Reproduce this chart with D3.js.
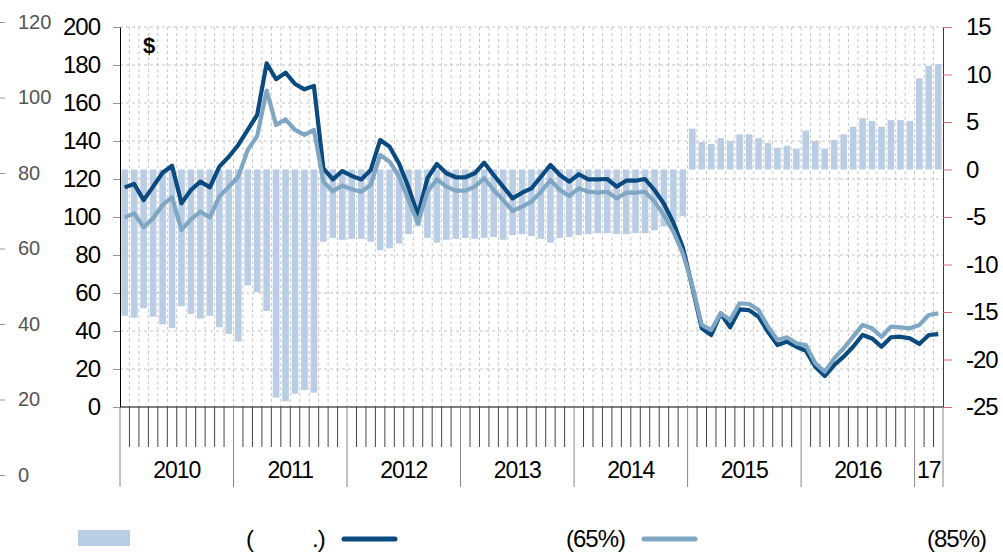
<!DOCTYPE html>
<html>
<head>
<meta charset="utf-8">
<script src="https://cdn.jsdelivr.net/npm/d3@7"></script>
<style>
  body { margin: 0; background: #fff; }
  text { font-family: "Liberation Sans", Arial, sans-serif; }
</style>
</head>
<body>
<div id="chart"></div>
<script>
// year blocks along the bottom (2017 only has three months)
const years = ["2010", "2011", "2012", "2013", "2014", "2015", "2016", "17"];
const monthsPerYear = [12, 12, 12, 12, 12, 12, 12, 3];

// monthly bars, right axis
const balance = [
  -15.4, -15.6, -14.6, -15.5, -16.3, -16.7, -14.4, -15.2, -15.7, -15.4, -16.6, -17.3,
  -18.1, -12.2, -12.9, -14.9, -24.0, -24.4, -23.6, -23.2, -23.5, -7.6, -7.2, -7.4,
  -7.3, -7.3, -7.6, -8.5, -8.3, -7.8, -6.8, -6.0, -7.2, -7.7, -7.4, -7.3,
  -7.2, -7.3, -7.2, -7.1, -7.4, -6.9, -6.8, -7.0, -7.3, -7.7, -7.2, -7.1,
  -6.9, -6.8, -6.7, -6.7, -6.8, -6.8, -6.7, -6.7, -6.4, -6.0, -5.5, -4.9,
  4.3, 2.9, 2.7, 3.3, 3.0, 3.7, 3.7, 3.3, 2.8, 2.3, 2.5, 2.2,
  4.1, 3.0, 2.2, 3.1, 3.7, 4.5, 5.4, 5.1, 4.5, 5.2, 5.2, 5.1,
  9.6, 10.9, 11.1
];

// price series, left axis
const price65 = [
  115.6, 117.4, 108.9, 116, 123.3, 127, 107.2, 114.2, 118.6, 115.6, 126.5, 131.7,
  137.9, 145.8, 153.7, 180.9, 172.5, 176, 170, 167.2, 169, 125.6, 119.8, 124.2,
  121.6, 119.8, 124.7, 140.5, 137, 128.2, 115.6, 101, 120.4, 127.9, 123, 120.9,
  120.9, 123, 128.6, 122.1, 116, 109.8, 112.8, 115.1, 121.2, 127.4, 122.1, 118.6,
  122.5, 119.8, 119.8, 120, 116, 119.1, 119.1, 120, 114.2, 107, 97, 84,
  63, 41.4, 37.9, 49.3, 41.9, 51.4, 51, 47.5, 39.6, 32.6, 34.4, 31.7,
  29.6, 21.2, 16.3, 22.1, 26.5, 31.7, 37.9, 36.1, 31.7, 36.7, 37, 36.1,
  33.2, 37.9, 38.4
];

const price85 = [
  99.8, 101.9, 94.6, 99.3, 106.3, 110.4, 93.2, 98.8, 102.8, 99.8, 110.7, 116,
  121.2, 135.3, 142.6, 166.5, 148.4, 151.4, 145.8, 143.2, 145.8, 118.6, 113.6, 116.6,
  114.6, 113.3, 116.8, 132.6, 129.1, 121.2, 108.9, 96.7, 113.3, 119.8, 116, 113.9,
  113.9, 116, 120.4, 114.2, 108.9, 103.3, 105.4, 108.1, 113.3, 119.5, 114.2, 111.1,
  115.1, 113.3, 112.8, 113.3, 109.8, 112.8, 112.8, 113.3, 108.1, 101, 92.3, 80.9,
  64, 43.2, 40.5, 49.3, 45.8, 54.6, 54.2, 51, 42.3, 35.3, 36.7, 33.5,
  32.6, 23, 18.6, 25.6, 30.9, 37, 43.2, 41.4, 37, 42.3, 41.9, 41.4,
  43.2, 48.4, 49.3
];

const leftTicks = [0, 20, 40, 60, 80, 100, 120, 140, 160, 180, 200];
const rightTicks = [-25, -20, -15, -10, -5, 0, 5, 10, 15];
const outerTicks = [0, 20, 40, 60, 80, 100, 120];

const width = 1003;
const height = 553;
const colBar = "#b9cde5";
const colDark = "#0b4a7e";
const colLight = "#7fa6c3";

const months = [];
years.forEach((yr, k) => {
  for (let m = 1; m <= monthsPerYear[k]; m++) months.push(yr + "-" + m);
});

const svg = d3.select("#chart")
  .append("svg")
  .attr("width", width)
  .attr("height", height);

// scales
const x = d3.scaleBand()
  .domain(months)
  .range([120, 943])
  .paddingInner(0.3)
  .paddingOuter(0.15);
const edge = (i) => x.range()[0] + i * x.step();
const mid = (i) => x(months[i]) + x.bandwidth() / 2;

const yLeft = d3.scaleLinear().domain([0, 200]).range([407, 27]);
const yRight = d3.scaleLinear().domain([-25, 15]).range([407, 27]);
const yOuter = d3.scaleLinear().domain([0, 120]).range([475, 22]);

// grid
const grid = svg.append("g").attr("class", "grid")
  .style("stroke", "#c4c4c4")
  .style("stroke-dasharray", "3,3");

grid.selectAll(".h")
  .data(leftTicks.filter(d => d > 0))
  .enter()
  .append("line")
  .attr("x1", 120).attr("x2", 943)
  .attr("y1", d => yLeft(d)).attr("y2", d => yLeft(d));

grid.selectAll(".v")
  .data(d3.range(1, months.length))
  .enter()
  .append("line")
  .attr("x1", d => edge(d)).attr("x2", d => edge(d))
  .attr("y1", yLeft(200)).attr("y2", yLeft(0));

// bars
svg.append("g")
  .selectAll("rect")
  .data(balance)
  .enter()
  .append("rect")
  .attr("x", (d, i) => x(months[i]))
  .attr("width", x.bandwidth())
  .attr("y", d => yRight(Math.max(0, d)))
  .attr("height", d => Math.abs(yRight(d) - yRight(0)))
  .style("fill", colBar);

// lines
const line = d3.line()
  .x((d, i) => mid(i))
  .y(d => yLeft(d))
  .curve(d3.curveLinear);

svg.append("path")
  .datum(price65)
  .attr("d", line)
  .style("fill", "none")
  .style("stroke", colDark)
  .style("stroke-width", 4.2)
  .style("stroke-linejoin", "round");

svg.append("path")
  .datum(price85)
  .attr("d", line)
  .style("fill", "none")
  .style("stroke", colLight)
  .style("stroke-width", 4.2)
  .style("stroke-linejoin", "round");

// left axis (0-200)
const axL = svg.append("g")
  .attr("transform", "translate(120,0)")
  .call(d3.axisLeft(yLeft).tickValues(leftTicks).tickSize(7).tickSizeOuter(0).tickPadding(13));
axL.select(".domain").style("stroke", "#000");
axL.selectAll(".tick line").style("stroke", "#999");
axL.selectAll("text")
  .style("font-size", "24px")
  .style("letter-spacing", "-1px")
  .style("fill", "#000");

// right axis (-25..15), plain hyphen for negatives
const axR = svg.append("g")
  .attr("transform", "translate(943,0)")
  .call(d3.axisRight(yRight).tickValues(rightTicks).tickFormat(d => String(d))
    .tickSize(9).tickSizeOuter(0).tickPadding(14));
axR.select(".domain").style("stroke", "#c00000");
axR.selectAll(".tick line").style("stroke", "#e36b6b");
axR.selectAll("text")
  .style("font-size", "24px")
  .style("letter-spacing", "-1px")
  .style("fill", "#000");

// outer gray axis (0-120)
const axO = svg.append("g")
  .attr("transform", "translate(0,0)")
  .call(d3.axisRight(yOuter).tickValues(outerTicks).tickSize(5).tickSizeOuter(0).tickPadding(13));
axO.select(".domain").remove();
axO.selectAll(".tick line").style("stroke", "#999");
axO.selectAll("text")
  .style("font-size", "20px")
  .style("fill", "#555");

// bottom: month ticks, year separators, year labels
svg.append("line")
  .attr("x1", 120).attr("x2", 943)
  .attr("y1", 407).attr("y2", 407)
  .style("stroke", "#000");

const yearStart = [0];
monthsPerYear.forEach((n, k) => yearStart.push(yearStart[k] + n));

svg.append("g")
  .selectAll("line")
  .data(d3.range(0, months.length + 1).filter(i => !yearStart.includes(i)))
  .enter()
  .append("line")
  .attr("x1", d => edge(d)).attr("x2", d => edge(d))
  .attr("y1", 407).attr("y2", 447)
  .style("stroke", "#444");

svg.append("g")
  .selectAll("line")
  .data(yearStart)
  .enter()
  .append("line")
  .attr("x1", d => edge(d)).attr("x2", d => edge(d))
  .attr("y1", 407).attr("y2", 487)
  .style("stroke", "#888");

svg.append("g")
  .selectAll("text")
  .data(years)
  .enter()
  .append("text")
  .attr("x", (d, k) => (edge(yearStart[k]) + edge(yearStart[k + 1])) / 2)
  .attr("y", 478)
  .attr("text-anchor", "middle")
  .style("font-size", "23px")
  .style("letter-spacing", "-1px")
  .text(d => d);

// unit mark
svg.append("text")
  .attr("x", 143).attr("y", 53)
  .style("font-size", "22px")
  .style("font-weight", "bold")
  .text("$");

// legend
const legend = svg.append("g").attr("class", "legend");
legend.append("rect")
  .attr("x", 78).attr("y", 530)
  .attr("width", 52).attr("height", 16)
  .style("fill", colBar);

const legendText = [
  { t: "(", x: 246 },
  { t: ".)", x: 312 },
  { t: "(65%)", x: 566 },
  { t: "(85%)", x: 927 }
];
legend.selectAll("text")
  .data(legendText)
  .enter()
  .append("text")
  .attr("x", d => d.x)
  .attr("y", 547)
  .style("font-size", "24px")
  .style("letter-spacing", "-1px")
  .text(d => d.t);

const legendLines = [
  { c: colDark, x: 342 },
  { c: colLight, x: 642 }
];
legend.selectAll(".swatch")
  .data(legendLines)
  .enter()
  .append("line")
  .attr("x1", d => d.x + 2).attr("x2", d => d.x + 53)
  .attr("y1", 539).attr("y2", 539)
  .style("stroke", d => d.c)
  .style("stroke-width", 5)
  .style("stroke-linecap", "round");
</script>
</body>
</html>
